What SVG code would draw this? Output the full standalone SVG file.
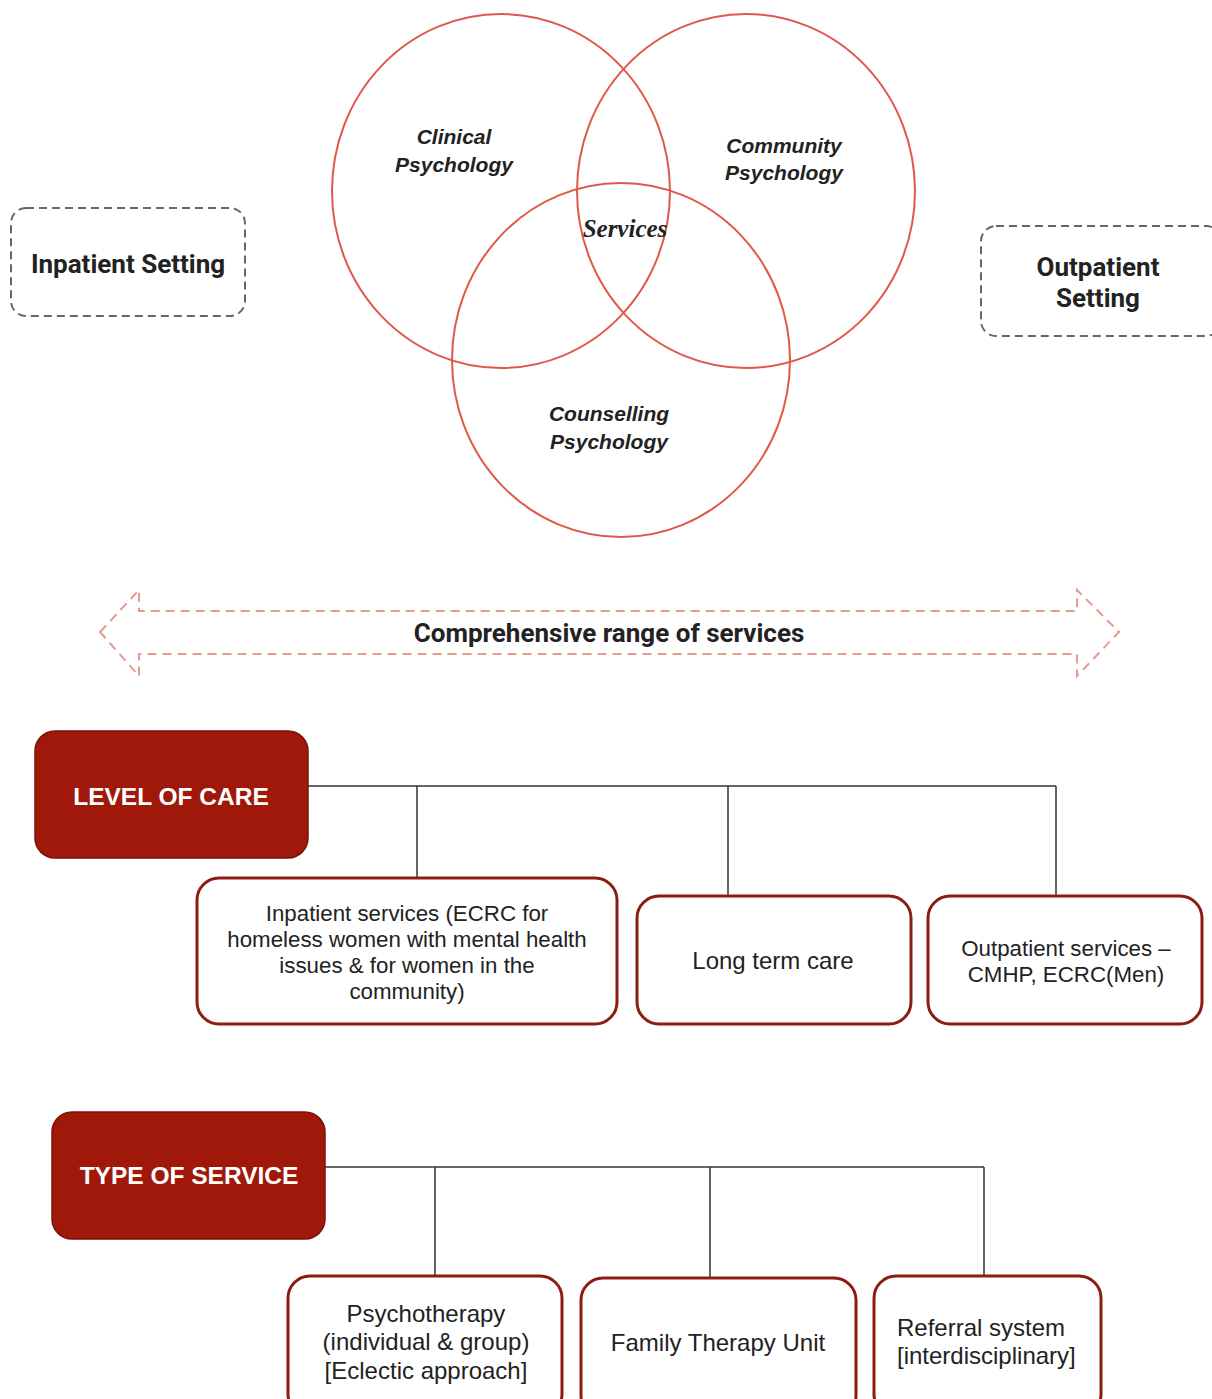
<svg xmlns="http://www.w3.org/2000/svg" width="1212" height="1399" viewBox="0 0 1212 1399">
  <style>
    .ring { fill: none; stroke: #e0584a; stroke-width: 2; }
    .ring-label { font-family: "Liberation Sans", Arial, sans-serif; font-weight: bold; font-style: italic; font-size: 21px; fill: #222; text-anchor: middle; }
    .hub { font-family: "Liberation Serif", serif; font-weight: bold; font-style: italic; font-size: 25px; fill: #222; text-anchor: middle; }
    .setting { fill: #fff; stroke: #666; stroke-width: 2; stroke-dasharray: 8 5; }
    .setting-label { font-family: Roboto, "Liberation Sans", sans-serif; font-weight: bold; font-size: 26px; fill: #222; text-anchor: middle; }
    .range { fill: none; stroke: #e89a8c; stroke-width: 2; stroke-dasharray: 9 6; }
    .range-label { font-family: Roboto, "Liberation Sans", sans-serif; font-weight: bold; font-size: 26px; fill: #222; text-anchor: middle; }
    .head { fill: #a0180a; stroke: #7a1208; stroke-width: 1.5; }
    .head-label { font-family: "Liberation Sans", Arial, sans-serif; font-weight: bold; font-size: 24.5px; fill: #fff; text-anchor: middle; }
    .item { fill: #fff; stroke: #8b1c12; stroke-width: 3; }
    .item-label { font-family: "Liberation Sans", Arial, sans-serif; font-size: 24px; fill: #222; text-anchor: middle; }
    .item-label.small { font-size: 22.3px; }
    .link { fill: none; stroke: #333; stroke-width: 1.5; }
  </style>

  <rect width="1212" height="1399" fill="#fff"/>

  <!-- Venn of the three psychology disciplines -->
  <g id="venn">
    <g id="clinical">
      <ellipse class="ring" cx="501" cy="191" rx="169" ry="177"/>
      <text class="ring-label" x="454" y="144">Clinical</text>
      <text class="ring-label" x="454" y="172">Psychology</text>
    </g>
    <g id="community">
      <ellipse class="ring" cx="746" cy="191" rx="169" ry="177"/>
      <text class="ring-label" x="784" y="153">Community</text>
      <text class="ring-label" x="784" y="180">Psychology</text>
    </g>
    <g id="counselling">
      <ellipse class="ring" cx="621" cy="360" rx="169" ry="177"/>
      <text class="ring-label" x="609" y="421">Counselling</text>
      <text class="ring-label" x="609" y="449">Psychology</text>
    </g>
    <g id="services">
      <text class="hub" x="625" y="237">Services</text>
    </g>
  </g>

  <g id="inpatient-setting">
    <rect class="setting" x="11" y="208" width="234" height="108" rx="15"/>
    <text class="setting-label" x="128" y="273">Inpatient Setting</text>
  </g>

  <g id="outpatient-setting">
    <rect class="setting" x="981" y="226" width="240" height="110" rx="15"/>
    <text class="setting-label" x="1098" y="276">Outpatient</text>
    <text class="setting-label" x="1098" y="307">Setting</text>
  </g>

  <!-- Double-headed range arrow -->
  <g id="range">
    <path class="range" d="M100 632 L139 590 L139 611 L1077 611 L1077 590 L1119 632 L1077 676 L1077 654 L139 654 L139 676 Z"/>
    <text class="range-label" x="609" y="642">Comprehensive range of services</text>
  </g>

  <!-- Connectors -->
  <g id="connectors">
    <path class="link" d="M308 786 H1056 M417 786 V878 M728 786 V896 M1056 786 V896"/>
    <path class="link" d="M325 1167 H984 M435 1167 V1276 M710 1167 V1278 M984 1167 V1276"/>
  </g>

  <!-- Level of care -->
  <g id="level-of-care">
    <rect class="head" x="35" y="731" width="273" height="127" rx="20"/>
    <text class="head-label" x="171" y="805">LEVEL OF CARE</text>
  </g>
  <g id="inpatient-services">
    <rect class="item" x="197" y="878" width="420" height="146" rx="22"/>
    <text class="item-label small" x="407" y="921">Inpatient services (ECRC for</text>
    <text class="item-label small" x="407" y="947">homeless women with mental health</text>
    <text class="item-label small" x="407" y="973">issues &amp; for women in the</text>
    <text class="item-label small" x="407" y="999">community)</text>
  </g>
  <g id="long-term-care">
    <rect class="item" x="637" y="896" width="274" height="128" rx="22"/>
    <text class="item-label" x="773" y="969">Long term care</text>
  </g>
  <g id="outpatient-services">
    <rect class="item" x="928" y="896" width="274" height="128" rx="22"/>
    <text class="item-label small" x="1066" y="956">Outpatient services –</text>
    <text class="item-label small" x="1066" y="982">CMHP, ECRC(Men)</text>
  </g>

  <!-- Type of service -->
  <g id="type-of-service">
    <rect class="head" x="52" y="1112" width="273" height="127" rx="20"/>
    <text class="head-label" x="189" y="1184">TYPE OF SERVICE</text>
  </g>
  <g id="psychotherapy">
    <rect class="item" x="288" y="1276" width="274" height="140" rx="22"/>
    <text class="item-label" x="426" y="1322">Psychotherapy</text>
    <text class="item-label" x="426" y="1350">(individual &amp; group)</text>
    <text class="item-label" x="426" y="1379">[Eclectic approach]</text>
  </g>
  <g id="family-therapy">
    <rect class="item" x="581" y="1278" width="275" height="140" rx="22"/>
    <text class="item-label" x="718" y="1351">Family Therapy Unit</text>
  </g>
  <g id="referral">
    <rect class="item" x="874" y="1276" width="227" height="140" rx="22"/>
    <text class="item-label" x="897" y="1336" text-anchor="start" style="text-anchor:start">Referral system</text>
    <text class="item-label" x="897" y="1364" style="text-anchor:start">[interdisciplinary]</text>
  </g>
</svg>
